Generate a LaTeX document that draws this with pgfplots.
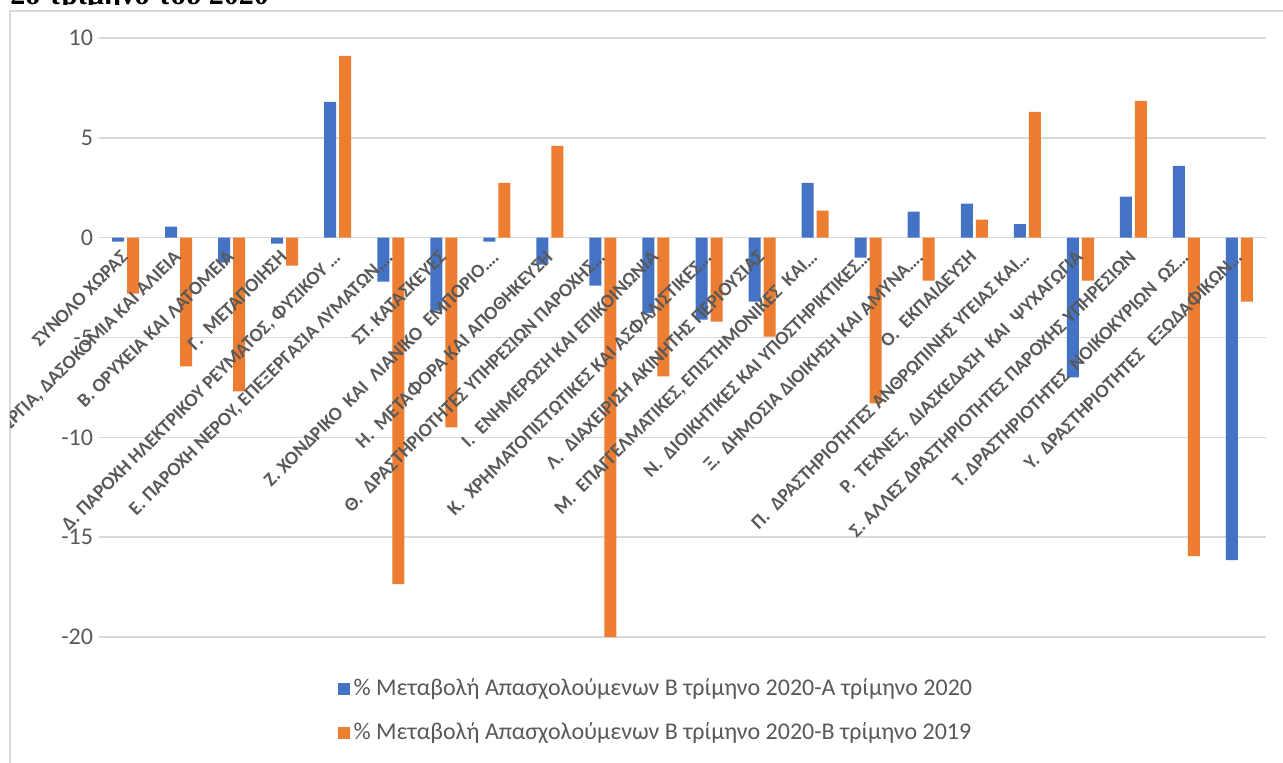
\documentclass[border=0pt]{standalone}
\usepackage{pgfplots}
\usepackage{pgfplotstable}
\pgfplotsset{compat=1.18}
\usepackage{fontspec}
\setmainfont{Carlito}
\newfontfamily\titlefont{Liberation Serif}
\definecolor{cblue}{HTML}{4472C4}
\definecolor{corange}{HTML}{ED7D31}
\definecolor{tgray}{HTML}{595959}
\definecolor{ggray}{HTML}{D9D9D9}
\pgfplotstableread{
idx blue orange
0 -0.2 -2.8
1 0.55 -6.45
2 -1.25 -7.7
3 -0.3 -1.4
4 6.8 9.1
5 -2.2 -17.35
6 -3.65 -9.5
7 -0.2 2.75
8 -1.35 4.6
9 -2.4 -20.0
10 -3.77 -6.95
11 -4.1 -4.2
12 -3.2 -4.95
13 2.75 1.35
14 -1.0 -8.3
15 1.3 -2.15
16 1.7 0.9
17 0.68 6.3
18 -7.0 -2.15
19 2.05 6.85
20 3.6 -15.95
21 -16.15 -3.2
}\datatable
\pgfplotsset{
  common/.style={
    at={(49.5pt,62.5pt)}, anchor=south west,
    scale only axis, width=583.5pt, height=299.5pt,
    ymin=-20, ymax=10, ytick={-20,-15,-10,-5,0,5,10},
    xmin=-0.5, xmax=21.5, xtick={0,...,21},
    axis x line=middle, axis y line=left,
    y axis line style={draw=none},
    hide obscured x ticks=false, hide obscured y ticks=false,
    major tick length=0pt,
  }
}
\begin{document}
\begin{tikzpicture}
\useasboundingbox (0,0) rectangle (641.5pt,381pt);
\fill[white] (0,0) rectangle (641.5pt,381pt);
\begin{scope}
\clip (0pt,378.9pt) rectangle (641.5pt,381pt);
\node[anchor=base west, inner sep=0, font=\titlefont\bfseries\fontsize{15}{18}\selectfont] at (5pt,378.9pt) {2ο τρίμηνο του 2020};
\end{scope}
\draw[ggray, line width=0.7pt] (5pt,-5pt) -- (5pt,375.5pt) -- (660pt,375.5pt);
\begin{scope}
\clip (5.4pt,-5pt) rectangle (660pt,375pt);
\begin{axis}[
  common,
  yticklabels={-20,-15,-10,-5,0,5,10},
  xticklabels={},
  x axis line style={-, draw=ggray, line width=0.8pt},
  ymajorgrids, grid style={ggray, line width=0.8pt},
  ybar=1.5pt, bar width=6pt,
  y tick label style={font=\fontsize{12}{14}\selectfont, text=tgray, xshift=0.5pt},
  legend style={at={(0.478,-0.1235)}, anchor=center, draw=none, fill=none,
    font=\fontsize{12}{14}\selectfont, text=tgray, legend cell align=left,
    row sep=8pt, /tikz/every even column/.append style={column sep=3pt}},
  legend image code/.code={\fill (0pt,-3pt) rectangle (6pt,3pt);},
]
\addplot[fill=cblue, draw=none] table[x=idx, y=blue] {\datatable};
\addlegendentry{\% Μεταβολή Απασχολούμενων Β τρίμηνο 2020-Α τρίμηνο 2020}
\addplot[fill=corange, draw=none] table[x=idx, y=orange] {\datatable};
\addlegendentry{\% Μεταβολή Απασχολούμενων Β τρίμηνο 2020-Β τρίμηνο 2019}
\end{axis}
\begin{axis}[
  common,
  yticklabels={},
  x axis line style={draw=none},
  xticklabels={{ΣΥΝΟΛΟ ΧΩΡΑΣ},{Α. ΓΕΩΡΓΙΑ, ΔΑΣΟΚΟΜΙΑ ΚΑΙ ΑΛΙΕΙΑ},{Β. ΟΡΥΧΕΙΑ ΚΑΙ ΛΑΤΟΜΕΙΑ},{Γ.\ \ ΜΕΤΑΠΟΙΗΣΗ},{Δ. ΠΑΡΟΧΗ ΗΛΕΚΤΡΙΚΟΥ ΡΕΥΜΑΤΟΣ, ΦΥΣΙΚΟΥ …},{Ε. ΠΑΡΟΧΗ ΝΕΡΟΥ, ΕΠΕΞΕΡΓΑΣΙΑ ΛΥΜΑΤΩΝ,…},{ΣΤ. ΚΑΤΑΣΚΕΥΕΣ},{Ζ. ΧΟΝΔΡΙΚΟ\ \ ΚΑΙ\ \ ΛΙΑΝΙΚΟ\ \ ΕΜΠΟΡΙΟ….},{Η.\ \ ΜΕΤΑΦΟΡΑ ΚΑΙ ΑΠΟΘΗΚΕΥΣΗ},{Θ.\ \ ΔΡΑΣΤΗΡΙΟΤΗΤΕΣ ΥΠΗΡΕΣΙΩΝ ΠΑΡΟΧΗΣ…},{Ι.\ \ ΕΝΗΜΕΡΩΣΗ ΚΑΙ ΕΠΙΚΟΙΝΩΝΙΑ},{Κ.\ \ ΧΡΗΜΑΤΟΠΙΣΤΩΤΙΚΕΣ ΚΑΙ ΑΣΦΑΛΙΣΤΙΚΕΣ…},{Λ.\ \ ΔΙΑΧΕΙΡΙΣΗ ΑΚΙΝΗΤΗΣ ΠΕΡΙΟΥΣΙΑΣ},{Μ.\ \ ΕΠΑΓΓΕΛΜΑΤΙΚΕΣ, ΕΠΙΣΤΗΜΟΝΙΚΕΣ\ \ ΚΑΙ…},{Ν.\ \ ΔΙΟΙΚΗΤΙΚΕΣ ΚΑΙ ΥΠΟΣΤΗΡΙΚΤΙΚΕΣ…},{Ξ.\ \ ΔΗΜΟΣΙΑ ΔΙΟΙΚΗΣΗ ΚΑΙ ΑΜΥΝΑ….},{Ο.\ \ ΕΚΠΑΙΔΕΥΣΗ},{Π.\ \ ΔΡΑΣΤΗΡΙΟΤΗΤΕΣ ΑΝΘΡΩΠΙΝΗΣ ΥΓΕΙΑΣ ΚΑΙ…},{Ρ.\ \ ΤΕΧΝΕΣ,\ \ ΔΙΑΣΚΕΔΑΣΗ\ \ ΚΑΙ\ \ ΨΥΧΑΓΩΓΙΑ},{Σ. ΑΛΛΕΣ ΔΡΑΣΤΗΡΙΟΤΗΤΕΣ ΠΑΡΟΧΗΣ ΥΠΗΡΕΣΙΩΝ},{Τ. ΔΡΑΣΤΗΡΙΟΤΗΤΕΣ\ \ ΝΟΙΚΟΚΥΡΙΩΝ\ \ ΩΣ…},{Υ.\ \ ΔΡΑΣΤΗΡΙΟΤΗΤΕΣ\ \ \ ΕΞΩΔΑΦΙΚΩΝ…}},
  x tick label style={rotate=45, anchor=north east, font=\bfseries\fontsize{9.6}{11}\selectfont, text=tgray, inner xsep=6pt, inner ysep=2pt},
]
\end{axis}
\end{scope}
\end{tikzpicture}
\end{document}
